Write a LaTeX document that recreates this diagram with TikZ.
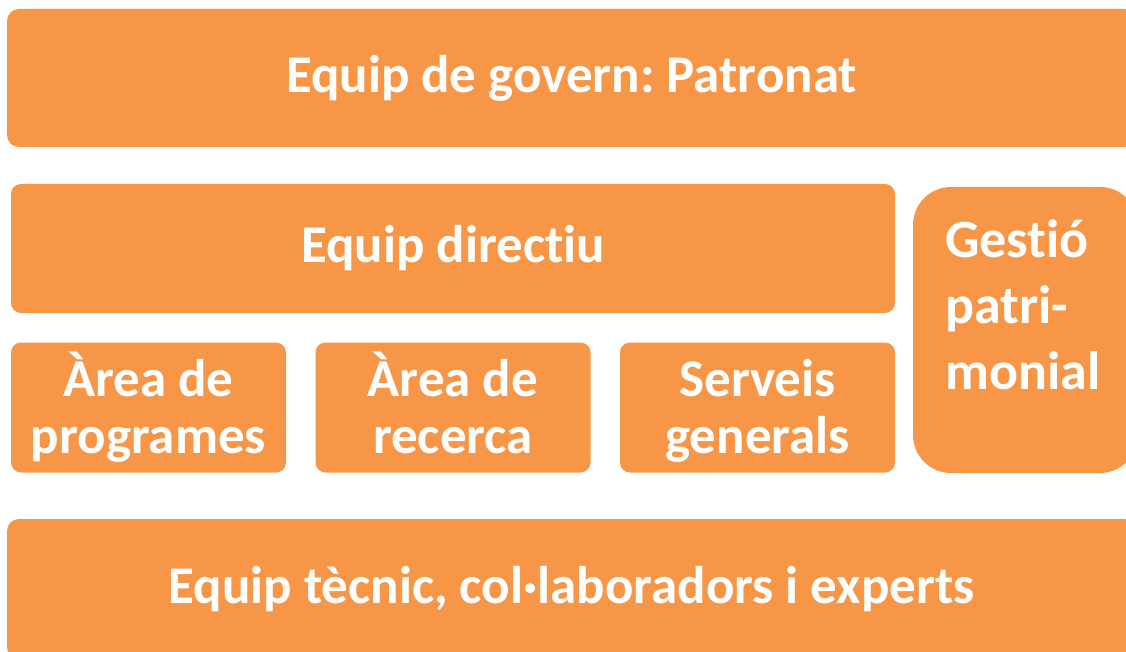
\documentclass[tikz,border=0pt]{standalone}
\usepackage{fontspec}
\setmainfont{Carlito}[Ligatures=NoCommon]
\frenchspacing
\definecolor{orng}{HTML}{F79646}
\begin{document}
\begin{tikzpicture}[x=1pt,y=-1pt,
  box/.style={fill=orng, draw=none, text=white, inner sep=0pt, align=center,
    font=\bfseries\fontsize{53}{57}\selectfont},
  bigbox/.style={box, rounded corners=12pt},
  smallbox/.style={box, rounded corners=10pt, minimum width=275pt, minimum height=130pt},
  lbl/.style={text=white, inner sep=0pt, align=left, font=\bfseries\fontsize{54}{66}\selectfont}]
\useasboundingbox (0,0) rectangle (1126,652);
\clip (0,0) rectangle (1126,652);
\node[bigbox, minimum width=1129pt, minimum height=138pt] (gov) at (571.5,78) {Equip de govern:\ Patronat};
\node[bigbox, rounded corners=10pt, minimum width=884pt, minimum height=129pt] (dir) at (453,248.5) {Equip directiu};
\node[smallbox] (prog) at (148.5,407.5) {Àrea de\\programes};
\node[smallbox] (rec) at (453,407.5) {Àrea de\\recerca\vphantom{g}};
\node[smallbox] (serv) at (757.5,407.5) {\vphantom{À}Serveis\\generals};
\node[box, rounded corners=38pt, minimum width=225pt, minimum height=286pt] (gest) at (1025.5,330) {};
\node[lbl, anchor=north west] (gestlbl) at (945,219) {Gestió\\patri-\\monial};
\node[bigbox, minimum width=1129pt, minimum height=140pt] (tec) at (571.5,589) {Equip tècnic, col·laboradors i experts};
\end{tikzpicture}
\end{document}
